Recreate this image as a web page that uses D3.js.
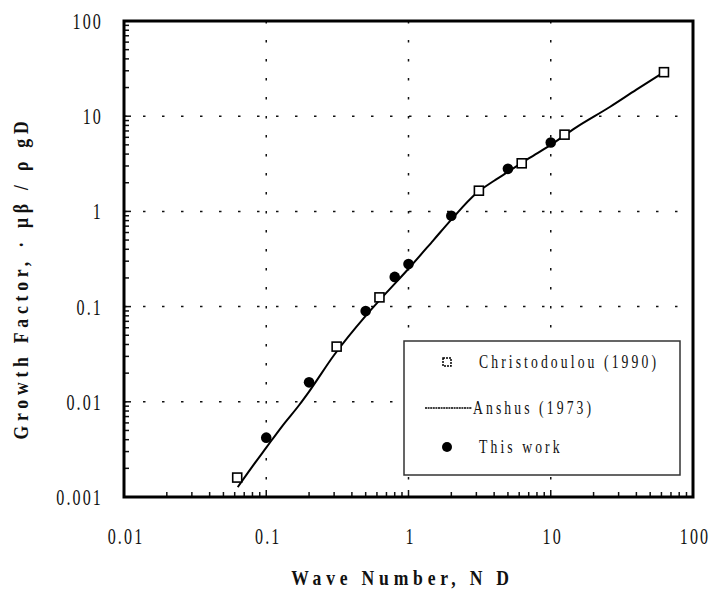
<!DOCTYPE html>
<html>
<head>
<meta charset="utf-8">
<script src="https://cdn.jsdelivr.net/npm/d3@7"></script>
<style>
  body { margin: 0; background: #fff; }
  svg { display: block; }
  text { font-family: "Liberation Serif", "Times New Roman", serif; fill: #111; }
</style>
</head>
<body>
<div id="chart"></div>
<script>
// Christodoulou (1990) - open squares
var christoX = [0.0625, 0.3125, 0.625, 3.125, 6.25, 12.5, 62.5];
var christoY = [0.0016, 0.038, 0.125, 1.65, 3.2, 6.4, 29];

// This work - filled circles
var workX = [0.1, 0.2, 0.5, 0.8, 1, 2, 5, 10];
var workY = [0.0042, 0.016, 0.09, 0.205, 0.28, 0.9, 2.8, 5.3];

// Anshus (1973) - solid curve
var anshusX = [0.063, 0.08, 0.1, 0.13, 0.17, 0.2, 0.3, 0.5, 0.7, 1, 1.5, 2, 3, 4, 5, 7, 10, 15, 26, 40, 62.5];
var anshusY = [0.00127, 0.0021, 0.0033, 0.0056, 0.0092, 0.0128, 0.031, 0.08, 0.14, 0.25, 0.5, 0.82, 1.55, 2.1, 2.6, 3.6, 5.0, 7.6, 12.5, 19, 29];

var xTicks = [0.01, 0.1, 1, 10, 100];
var xTickLabels = ['0.01', '0.1', '1', '10', '100'];
var yTicks = [0.001, 0.01, 0.1, 1, 10, 100];
var yTickLabels = ['0.001', '0.01', '0.1', '1', '10', '100'];

var legendNames = ['Christodoulou (1990)', 'Anshus (1973)', 'This work'];

var width = 712, height = 601;
var margin = {top: 21, right: 19, bottom: 104, left: 124};
var plotW = width - margin.left - margin.right;
var plotH = height - margin.top - margin.bottom;

var svg = d3.select('#chart').append('svg')
    .attr('width', width)
    .attr('height', height);

var x = d3.scaleLog().domain([0.01, 100]).range([0, plotW]);
var y = d3.scaleLog().domain([0.001, 100]).range([plotH, 0]);

var g = svg.append('g')
    .attr('transform', 'translate(' + margin.left + ',' + margin.top + ')');

// minor tick values for each decade
function minorValues(lo, hi) {
    var out = [];
    for (var d = lo; d < hi; d *= 10) {
        for (var k = 2; k <= 9; k++) out.push(d * k);
    }
    return out;
}

// dotted grid at decades
g.selectAll('line.gx').data(xTicks.slice(1, -1)).enter().append('line')
    .attr('class', 'gx')
    .attr('x1', function(d) { return x(d); })
    .attr('x2', function(d) { return x(d); })
    .attr('y1', 0).attr('y2', plotH)
    .attr('stroke', '#111').attr('stroke-width', 1.5)
    .attr('stroke-dasharray', '2.5,16.5');

g.selectAll('line.gy').data(yTicks.slice(1, -1)).enter().append('line')
    .attr('class', 'gy')
    .attr('y1', function(d) { return y(d); })
    .attr('y2', function(d) { return y(d); })
    .attr('x1', 0).attr('x2', plotW)
    .attr('stroke', '#111').attr('stroke-width', 1.5)
    .attr('stroke-dasharray', '2.5,16.5');

// inward ticks on left and bottom
g.selectAll('line.mx').data(minorValues(0.01, 100)).enter().append('line')
    .attr('x1', function(d) { return x(d); })
    .attr('x2', function(d) { return x(d); })
    .attr('y1', plotH).attr('y2', plotH - 5)
    .attr('stroke', '#111').attr('stroke-width', 1.5);

g.selectAll('line.my').data(minorValues(0.001, 100)).enter().append('line')
    .attr('y1', function(d) { return y(d); })
    .attr('y2', function(d) { return y(d); })
    .attr('x1', 0).attr('x2', 5)
    .attr('stroke', '#111').attr('stroke-width', 1.5);

g.selectAll('line.majx').data(xTicks).enter().append('line')
    .attr('x1', function(d) { return x(d); })
    .attr('x2', function(d) { return x(d); })
    .attr('y1', plotH).attr('y2', plotH - 7)
    .attr('stroke', '#111').attr('stroke-width', 1.5);

g.selectAll('line.majy').data(yTicks).enter().append('line')
    .attr('y1', function(d) { return y(d); })
    .attr('y2', function(d) { return y(d); })
    .attr('x1', 0).attr('x2', 7)
    .attr('stroke', '#111').attr('stroke-width', 1.5);

// frame
g.append('rect')
    .attr('x', 0).attr('y', 0)
    .attr('width', plotW).attr('height', plotH)
    .attr('fill', 'none').attr('stroke', '#000').attr('stroke-width', 3);

// tick labels (tall, narrow serif)
g.selectAll('text.xl').data(xTicks).enter().append('text')
    .attr('transform', function(d) { return 'translate(' + (x(d) + 2) + ',' + (plotH + 47) + ') scale(0.7,1)'; })
    .attr('text-anchor', 'middle')
    .style('font-size', '23px')
    .style('letter-spacing', '3px')
    .text(function(d, i) { return xTickLabels[i]; });

g.selectAll('text.yl').data(yTicks).enter().append('text')
    .attr('transform', function(d) { return 'translate(-21,' + (y(d) + 8) + ') scale(0.7,1)'; })
    .attr('text-anchor', 'end')
    .style('font-size', '23px')
    .style('letter-spacing', '3px')
    .text(function(d, i) { return yTickLabels[i]; });

// axis titles
svg.append('text')
    .attr('transform', 'translate(' + (margin.left + plotW / 2 - 6) + ',585) scale(0.8,1)')
    .attr('text-anchor', 'middle')
    .style('font-size', '22px')
    .style('font-weight', 'bold')
    .style('letter-spacing', '6px')
    .text('Wave Number, N D');

svg.append('text')
    .attr('transform', 'translate(28,' + 278 + ') rotate(-90) scale(0.8,1)')
    .attr('text-anchor', 'middle')
    .style('font-size', '22px')
    .style('font-weight', 'bold')
    .style('letter-spacing', '6px')
    .text('Growth Factor, \u00b7   \u03bc\u03b2 / \u03c1 gD');

// Anshus curve
var anshus = anshusX.map(function(v, i) { return {x: v, y: anshusY[i]}; });
var line = d3.line()
    .x(function(d) { return x(d.x); })
    .y(function(d) { return y(d.y); })
    .curve(d3.curveMonotoneX);

g.append('path').datum(anshus)
    .attr('d', line)
    .attr('fill', 'none')
    .attr('stroke', '#000')
    .attr('stroke-width', 2);

// this work - filled circles
g.selectAll('circle.work').data(workX).enter().append('circle')
    .attr('cx', function(d) { return x(d); })
    .attr('cy', function(d, i) { return y(workY[i]); })
    .attr('r', 5.3)
    .attr('fill', '#000');

// christodoulou - open squares
g.selectAll('rect.chr').data(christoX).enter().append('rect')
    .attr('x', function(d) { return x(d) - 4.5; })
    .attr('y', function(d, i) { return y(christoY[i]) - 4.5; })
    .attr('width', 9).attr('height', 9)
    .attr('fill', '#fff')
    .attr('stroke', '#000')
    .attr('stroke-width', 1.6);

// legend
var lg = svg.append('g').attr('transform', 'translate(404,341)');
lg.append('rect')
    .attr('width', 276).attr('height', 134)
    .attr('fill', '#fff')
    .attr('stroke', '#333').attr('stroke-width', 1.5);

var rowY = [21, 67, 106];
lg.append('rect')
    .attr('x', 39).attr('y', rowY[0] - 4)
    .attr('width', 8).attr('height', 8)
    .attr('fill', '#fff').attr('stroke', '#000').attr('stroke-width', 1.5)
    .attr('stroke-dasharray', '2,1');
lg.append('line')
    .attr('x1', 21).attr('x2', 68)
    .attr('y1', rowY[1]).attr('y2', rowY[1])
    .attr('stroke', '#000').attr('stroke-width', 1.5)
    .attr('stroke-dasharray', '2,0.6');
lg.append('circle')
    .attr('cx', 43).attr('cy', rowY[2])
    .attr('r', 5).attr('fill', '#000');

lg.selectAll('text.lt').data(legendNames).enter().append('text')
    .attr('transform', function(d, i) {
        var tx = i === 1 ? 69 : 75;
        return 'translate(' + tx + ',' + (rowY[i] + 6) + ') scale(0.72,1)';
    })
    .style('font-size', '19px')
    .style('letter-spacing', '4.3px')
    .text(function(d) { return d; });
</script>
</body>
</html>
